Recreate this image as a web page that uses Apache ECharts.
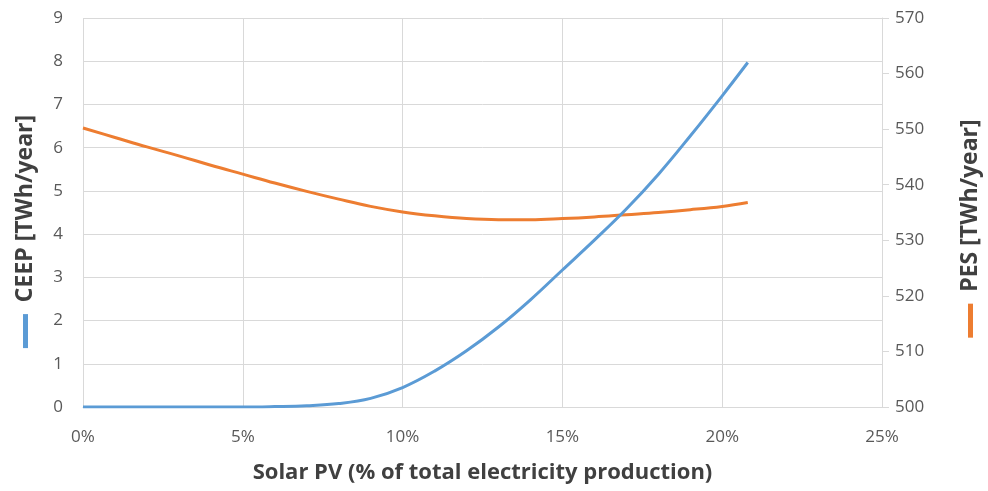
<!DOCTYPE html>
<html>
<head>
<meta charset="utf-8">
<script src="https://cdn.jsdelivr.net/npm/echarts@6/dist/echarts.min.js"></script>
<style>html,body{margin:0;padding:0;background:#fff}#c{width:988px;height:491px}</style>
</head>
<body>
<div id="c"></div>
<script>
const solarPV = [0,1,2,3,4,5,6,7,8,9,10,11,12,13,14,15,16,17,18,19,20,20.8];
const ceep = [0,0,0,0,0,0,0.01,0.03,0.08,0.2,0.45,0.83,1.3,1.85,2.48,3.17,3.86,4.58,5.38,6.27,7.2,7.97];
const pes = [550.2,548.5,546.8,545.2,543.5,541.9,540.3,538.8,537.4,536.1,535.1,534.4,533.9,533.7,533.7,533.9,534.2,534.6,535.0,535.5,536.1,536.8];
const xTicks = [0,5,10,15,20,25];

const font = '"Open Sans", "Liberation Sans", sans-serif';
const chart = echarts.init(document.getElementById('c'), null, {renderer:'canvas'});
chart.setOption({
  animation:false,
  backgroundColor:'#fff',
  grid:{left:83,right:106,top:18,bottom:84,outerBoundsMode:'none',containLabel:false},
  xAxis:{
    type:'value',min:xTicks[0],max:xTicks[xTicks.length-1],interval:5,
    name:'Solar PV (% of total electricity production)',
    nameLocation:'middle',nameGap:55,
    nameTextStyle:{fontFamily:font,fontSize:22,fontWeight:'bold',color:'#404040'},
    axisLine:{show:true,lineStyle:{color:'#d9d9d9',width:1}},
    axisTick:{show:false},
    axisLabel:{formatter:'{value}%',fontFamily:font,fontSize:17,color:'#595959',margin:22},
    splitLine:{show:true,lineStyle:{color:'#d9d9d9',width:1}}
  },
  yAxis:[{
    type:'value',min:0,max:9,interval:1,position:'left',
    name:'{m|}  CEEP [TWh/year]',nameLocation:'middle',nameRotate:90,nameGap:46,
    nameTextStyle:{fontFamily:font,fontSize:23,fontWeight:'bold',color:'#404040',padding:[0,0,0,-38],
      rich:{m:{width:34,height:5,backgroundColor:'#5B9BD5'}}},
    axisLine:{show:false},axisTick:{show:false},
    axisLabel:{fontFamily:font,fontSize:17,color:'#595959',margin:20},
    splitLine:{show:true,lineStyle:{color:'#d9d9d9',width:1}}
  },{
    type:'value',min:500,max:570,interval:10,position:'right',
    name:'{m|}  PES [TWh/year]',nameLocation:'middle',nameRotate:90,nameGap:77,
    nameTextStyle:{fontFamily:font,fontSize:23,fontWeight:'bold',color:'#404040',padding:[0,0,0,-32],
      rich:{m:{width:34,height:5,backgroundColor:'#ED7D31'}}},
    axisLine:{show:true,lineStyle:{color:'#d9d9d9',width:1}},
    axisTick:{show:true,length:7,inside:false,lineStyle:{color:'#d9d9d9'}},
    axisLabel:{fontFamily:font,fontSize:17,color:'#595959',margin:13},
    splitLine:{show:false}
  }],
  series:[{
    name:'CEEP',type:'line',yAxisIndex:0,smooth:0.4,symbol:'none',
    data:solarPV.map((x,i)=>[x,ceep[i]]),
    lineStyle:{color:'#5B9BD5',width:3},z:3
  },{
    name:'PES',type:'line',yAxisIndex:1,smooth:0.4,symbol:'none',
    data:solarPV.map((x,i)=>[x,pes[i]]),
    lineStyle:{color:'#ED7D31',width:3},z:2
  }]
});
</script>
</body>
</html>
